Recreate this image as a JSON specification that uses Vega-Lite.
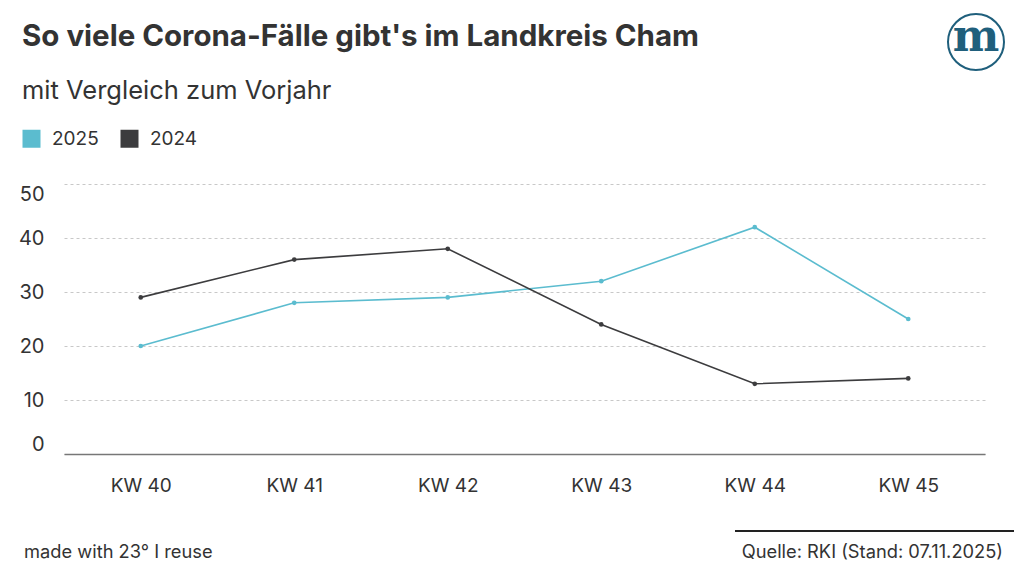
{
  "$schema": "https://vega.github.io/schema/vega-lite/v6.json",
  "width": 921,
  "height": 270,
  "autosize": {"type": "none"},
  "padding": {"left": 64, "top": 184, "right": 39, "bottom": 119},
  "background": "white",
  "config": {
    "font": "Inter",
    "view": {"stroke": null}
  },
  "title": {
    "text": "So viele Corona-Fälle gibt's im Landkreis Cham",
    "subtitle": "mit Vergleich zum Vorjahr",
    "anchor": "start",
    "frame": "group",
    "dx": -42,
    "dy": 121,
    "offset": 26,
    "font": "Inter",
    "fontSize": 29.5,
    "fontWeight": 700,
    "color": "#333333",
    "subtitleFont": "Inter",
    "subtitleFontSize": 25.5,
    "subtitleColor": "#333333",
    "subtitlePadding": 26
  },
  "layer": [
    {
      "data": {
        "values": [
          {"woche": "KW 40", "jahr": "2025", "faelle": 20},
          {"woche": "KW 41", "jahr": "2025", "faelle": 28},
          {"woche": "KW 42", "jahr": "2025", "faelle": 29},
          {"woche": "KW 43", "jahr": "2025", "faelle": 32},
          {"woche": "KW 44", "jahr": "2025", "faelle": 42},
          {"woche": "KW 45", "jahr": "2025", "faelle": 25},
          {"woche": "KW 40", "jahr": "2024", "faelle": 29},
          {"woche": "KW 41", "jahr": "2024", "faelle": 36},
          {"woche": "KW 42", "jahr": "2024", "faelle": 38},
          {"woche": "KW 43", "jahr": "2024", "faelle": 24},
          {"woche": "KW 44", "jahr": "2024", "faelle": 13},
          {"woche": "KW 45", "jahr": "2024", "faelle": 14}
        ]
      },
      "encoding": {
        "x": {
          "field": "woche",
          "type": "ordinal",
          "scale": {"type": "point", "padding": 0.5},
          "axis": {
            "title": null,
            "labelAngle": 0,
            "labelFontSize": 19,
            "labelColor": "#333333",
            "labelPadding": 22,
            "ticks": false,
            "domainColor": "#777777",
            "domainWidth": 1.5,
            "grid": false
          }
        },
        "y": {
          "field": "faelle",
          "type": "quantitative",
          "scale": {"domain": [0, 50]},
          "axis": {
            "title": null,
            "values": [0, 10, 20, 30, 40, 50],
            "labelFontSize": 20,
            "labelColor": "#333333",
            "labelPadding": 20,
            "labelFlush": true,
            "ticks": false,
            "domain": false,
            "gridColor": "#c8c8c8",
            "gridDash": [3, 3],
            "gridWidth": 1
          }
        },
        "color": {
          "field": "jahr",
          "type": "nominal",
          "sort": ["2025", "2024"],
          "scale": {"domain": ["2025", "2024"], "range": ["#5bbccf", "#3c3c3e"]},
          "legend": {
            "title": null,
            "orient": "none",
            "legendX": -42,
            "legendY": -55,
            "direction": "horizontal",
            "symbolType": "square",
            "symbolSize": 324,
            "symbolOpacity": 1,
            "symbolStrokeWidth": 0,
            "labelFontSize": 19,
            "labelColor": "#333333",
            "labelOffset": 11,
            "columnPadding": 21
          }
        }
      },
      "layer": [
        {"mark": {"type": "line", "strokeWidth": 1.6}},
        {"mark": {"type": "point", "filled": true, "size": 22, "opacity": 1}}
      ]
    },
    {
      "data": {"values": [{"text": "made with 23° I reuse"}]},
      "mark": {"type": "text", "align": "left", "baseline": "middle", "fontSize": 18.3, "color": "#333333"},
      "encoding": {"text": {"field": "text"}, "x": {"value": -40}, "y": {"value": 369}}
    },
    {
      "data": {"values": [{"text": "Quelle: RKI (Stand: 07.11.2025)"}]},
      "mark": {"type": "text", "align": "right", "baseline": "middle", "fontSize": 18.3, "color": "#333333"},
      "encoding": {"text": {"field": "text"}, "x": {"value": 939}, "y": {"value": 369}}
    },
    {
      "data": {"values": [{}]},
      "mark": {"type": "rule", "color": "#222222", "strokeWidth": 2},
      "encoding": {"x": {"value": 671}, "x2": {"value": 950}, "y": {"value": 347}}
    },
    {
      "data": {"values": [{}]},
      "mark": {"type": "point", "shape": "circle", "filled": false, "size": 3136, "strokeWidth": 2, "color": "#1f5f7c", "opacity": 1},
      "encoding": {"x": {"value": 912}, "y": {"value": -142}}
    },
    {
      "data": {"values": [{"text": "m"}]},
      "mark": {"type": "text", "font": "DejaVu Serif", "fontWeight": "bold", "fontSize": 44, "align": "center", "baseline": "middle", "color": "#1f5f7c"},
      "encoding": {"text": {"field": "text"}, "x": {"value": 912}, "y": {"value": -146}}
    }
  ]
}
